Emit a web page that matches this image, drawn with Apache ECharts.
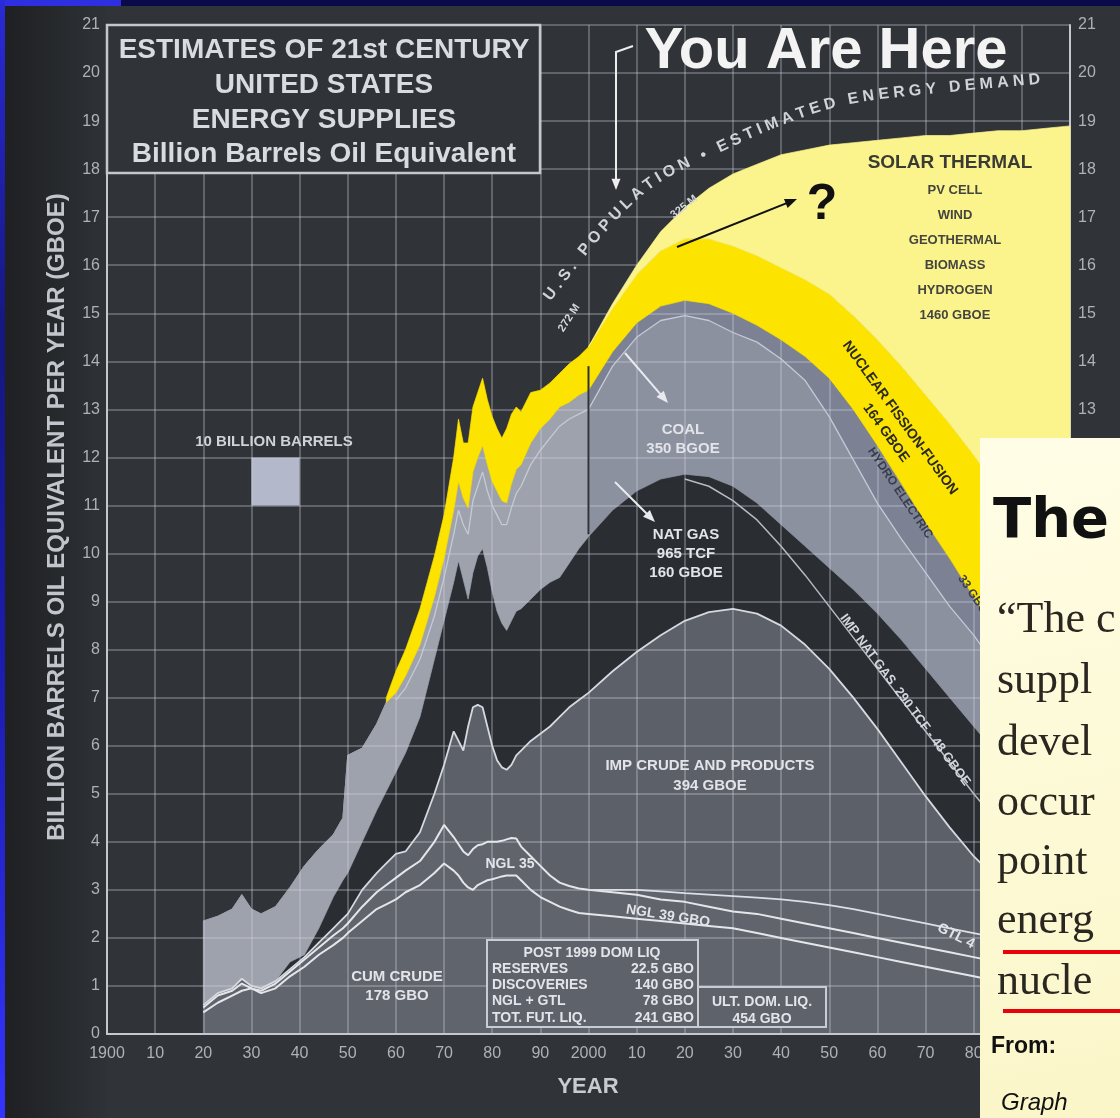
<!DOCTYPE html>
<html>
<head>
<meta charset="utf-8">
<script src="https://cdn.jsdelivr.net/npm/echarts@6/dist/echarts.min.js"></script>
<style>
  html, body { margin: 0; padding: 0; background: #303337; }
  #chart { width: 1120px; height: 1118px; }
</style>
</head>
<body>
<div id="chart"></div>
<script>
// ---------------------------------------------------------------
// US energy supply estimates, billion barrels oil equivalent / yr
// Each array is the upper edge of one source (cumulative level).
// ---------------------------------------------------------------
const histYears = [1920, 1923, 1926, 1928, 1930, 1932, 1935, 1938, 1941, 1944, 1947, 1949,
  1950, 1953, 1956, 1958, 1960, 1962, 1965, 1968, 1970, 1972, 1973, 1974,
  1975, 1976, 1977, 1978, 1979, 1980, 1981, 1982, 1983, 1984, 1985, 1986,
  1988, 1990, 1992, 1994, 1996, 1998];
const projYears = [2000, 2005, 2010, 2015, 2020, 2025, 2030, 2035, 2040, 2045, 2050,
  2055, 2060, 2065, 2070, 2075, 2080, 2085, 2090, 2095, 2100];

// domestic crude
const crudeHist = [0.45, 0.65, 0.8, 0.9, 0.95, 0.85, 0.95, 1.2, 1.4, 1.65, 1.85, 2.0,
  2.1, 2.35, 2.6, 2.7, 2.8, 2.95, 3.1, 3.35, 3.55, 3.4, 3.3, 3.15,
  3.05, 3.0, 3.1, 3.15, 3.2, 3.22, 3.25, 3.28, 3.3, 3.3, 3.3, 3.2,
  3.0, 2.85, 2.75, 2.65, 2.58, 2.52];
const crudeProj = [2.5, 2.45, 2.4, 2.35, 2.3, 2.25, 2.2, 2.1, 2.0, 1.9, 1.8,
  1.7, 1.6, 1.5, 1.4, 1.3, 1.2, 1.1, 1.0, 0.9, 0.8];
// natural gas liquids
const nglHist = [0.55, 0.8, 0.9, 1.05, 0.95, 0.9, 1.05, 1.3, 1.55, 1.8, 2.05, 2.2,
  2.3, 2.65, 2.95, 3.1, 3.25, 3.4, 3.6, 4.0, 4.35, 4.1, 3.95, 3.8,
  3.72, 3.85, 3.93, 3.95, 4.0, 4.0, 4.0, 4.02, 4.05, 4.08, 4.07, 3.9,
  3.7, 3.5, 3.3, 3.15, 3.08, 3.03];
const nglProj = [3.0, 2.95, 2.9, 2.8, 2.75, 2.65, 2.55, 2.5, 2.4, 2.3, 2.2,
  2.1, 2.0, 1.9, 1.8, 1.7, 1.6, 1.5, 1.4, 1.3, 1.2];
// gas to liquids
const gtlProj = [3.0, 3.0, 3.0, 2.97, 2.93, 2.9, 2.87, 2.84, 2.8, 2.75, 2.68,
  2.6, 2.5, 2.4, 2.3, 2.2, 2.1, 2.0, 1.9, 1.8, 1.7];
// imported crude and products
const impCrudeHist = [0.6, 0.85, 0.95, 1.15, 1.0, 0.95, 1.1, 1.35, 1.6, 1.9, 2.2, 2.4,
  2.5, 3.0, 3.35, 3.55, 3.75, 3.8, 4.2, 5.0, 5.6, 6.3, 6.1, 5.9,
  6.4, 6.8, 6.85, 6.8, 6.4, 6.0, 5.7, 5.55, 5.5, 5.6, 5.8, 5.9,
  6.1, 6.25, 6.4, 6.6, 6.8, 6.95];
const impCrudeProj = [7.1, 7.55, 7.95, 8.3, 8.6, 8.78, 8.85, 8.75, 8.5, 8.1, 7.6,
  7.0, 6.35, 5.65, 4.95, 4.3, 3.7, 3.2, 2.8, 2.45, 2.2];
// natural gas
const natGasHist = [null, null, null, null, null, null, 1.1, 1.5, 1.65, 2.2, 2.85, 3.2,
  3.35, 4.0, 4.65, 5.05, 5.45, 5.85, 6.6, 7.8, 8.6, 9.4, 9.85, 9.45,
  9.05, 9.6, 9.95, 10.1, 9.7, 9.2, 8.8, 8.55, 8.4, 8.6, 8.8, 8.85,
  9.05, 9.25, 9.4, 9.5, 9.8, 10.1];
const natGasProj = [10.35, 10.85, 11.25, 11.5, 11.55, 11.4, 11.1, 10.7, 10.15, 9.55, 8.9,
  8.25, 7.6, 6.95, 6.3, 5.65, 5.0, 4.4, 3.8, 3.25, 2.7];
// imported natural gas
const impGasProj = [10.35, 10.9, 11.3, 11.55, 11.65, 11.6, 11.4, 11.05, 10.6, 10.15, 9.7,
  9.25, 8.75, 8.2, 7.6, 7.0, 6.4, 5.8, 5.2, 4.65, 4.1];
// coal
const coalHist = [2.35, 2.45, 2.6, 2.9, 2.6, 2.5, 2.65, 3.05, 3.5, 3.85, 4.15, 4.5,
  5.8, 5.95, 6.45, 6.9, 6.95, 7.2, 7.8, 8.7, 9.5, 10.4, 10.9, 10.6,
  10.4, 11.1, 11.4, 11.7, 11.3, 11.0, 10.8, 10.6, 10.6, 10.95, 11.25, 11.4,
  11.85, 12.15, 12.4, 12.65, 12.8, 12.9];
const coalProj = [13.0, 13.9, 14.5, 14.85, 14.95, 14.85, 14.6, 14.4, 14.05, 13.6, 12.85,
  11.95, 11.05, 10.3, 9.6, 8.9, 8.3, 7.6, 6.9, 6.2, 5.5];
// hydro electric
const hydroHist = [2.35, 2.45, 2.6, 2.9, 2.6, 2.5, 2.65, 3.05, 3.5, 3.85, 4.15, 4.5,
  5.8, 5.95, 6.45, 6.9, 7.1, 7.45, 8.1, 9.1, 9.9, 10.9, 11.5, 11.15,
  10.95, 11.7, 12.0, 12.25, 11.85, 11.5, 11.3, 11.1, 11.05, 11.45, 11.75, 11.85,
  12.3, 12.6, 12.8, 13.05, 13.15, 13.3];
const hydroProj = [13.4, 14.2, 14.8, 15.15, 15.27, 15.2, 15.0, 14.75, 14.45, 14.1, 13.65,
  13.0, 12.25, 11.45, 10.65, 9.9, 9.1, 8.3, 7.5, 6.7, 5.9];
// nuclear fission-fusion
const nuclearHist = [null, null, null, null, null, null, null, null, null, null, null, null,
  null, null, null, 7.0, 7.55, 8.0, 8.85, 9.95, 10.8, 12.0, 12.8, 12.3,
  12.3, 13.05, 13.35, 13.65, 13.2, 12.85, 12.6, 12.4, 12.6, 12.9, 13.05, 12.95,
  13.35, 13.4, 13.55, 13.75, 13.95, 14.1];
const nuclearProj = [14.3, 15.1, 15.8, 16.3, 16.55, 16.55, 16.4, 16.2, 15.95, 15.7, 15.4,
  14.95, 14.45, 13.9, 13.3, 12.7, 12.05, 11.35, 10.6, 9.85, 9.1];
// estimated energy demand (solar thermal, PV, wind, geothermal, biomass, hydrogen on top)
const demandProj = [14.3, 15.2, 16.0, 16.7, 17.2, 17.6, 17.9, 18.1, 18.3, 18.4, 18.5,
  18.55, 18.6, 18.65, 18.7, 18.7, 18.75, 18.8, 18.8, 18.85, 18.9];

// scale square: 10 years x 1 GBOE per year
const scaleSquareYears = [1930, 1940];
const scaleSquareLevels = [11, 12];
// present-day marker
const markerYear = 2000;
const markerLevels = [10.4, 13.9];

// axis tick labels
const yTickLabels = ['0','1','2','3','4','5','6','7','8','9','10','11','12','13','14','15','16','17','18','19','20','21'];

// ---------------------------------------------------------------
const SANS = '"Liberation Sans", Arial, Helvetica, sans-serif';
const SERIF = '"Liberation Serif", "Times New Roman", serif';
const HEAVY = '"DejaVu Sans", Verdana, sans-serif';

const layers = [
  { name: 'crude', hist: crudeHist, proj: crudeProj },
  { name: 'ngl', hist: nglHist, proj: nglProj },
  { name: 'gtl', hist: null, proj: gtlProj },
  { name: 'impCrude', hist: impCrudeHist, proj: impCrudeProj },
  { name: 'natGas', hist: natGasHist, proj: natGasProj },
  { name: 'impGas', hist: null, proj: impGasProj },
  { name: 'coal', hist: coalHist, proj: coalProj },
  { name: 'hydro', hist: hydroHist, proj: hydroProj },
  { name: 'nuclear', hist: nuclearHist, proj: nuclearProj },
  { name: 'demand', hist: null, proj: demandProj }
];
const fills = {
  crude: ['#60656d', '#60656d'],
  ngl: ['#60656d', '#60656d'],
  gtl: ['#60656d', '#60656d'],
  impCrude: ['#5c6169', '#5c6169'],
  natGas: ['#2a2d31', '#2a2d31'],
  impGas: ['#2a2d31', '#2a2d31'],
  coal: ['#9ea2ad', '#8c91a0'],
  hydro: ['#9ea2ad', '#7c8294'],
  nuclear: ['#fde300', '#fde300'],
  demand: ['#fbf38b', '#fbf38b']
};
const bandZ = { nuclear: 4, demand: 4 };

const eras = [
  { xs: histYears.concat([projYears[0]]),
    vals: l => (l.hist ? l.hist : histYears.map(() => null)).concat([l.proj ? l.proj[0] : null]) },
  { xs: projYears, vals: l => l.proj.slice() }
];

function buildBands() {
  const out = [];
  eras.forEach((era, e) => {
    const table = layers.map(l => era.vals(l));
    layers.forEach((layer, i) => {
      const up = table[i];
      const runs = [];
      let cur = [];
      up.forEach((v, k) => {
        if (v == null) { if (cur.length) runs.push(cur); cur = []; }
        else cur.push(k);
      });
      if (cur.length) runs.push(cur);
      const polys = runs.filter(r => r.length > 1).map(r => {
        const top = r.map(k => [era.xs[k], up[k]]);
        const bottom = r.map(k => {
          for (let j = i - 1; j >= 0; j--) {
            if (table[j][k] != null) return [era.xs[k], table[j][k]];
          }
          return [era.xs[k], 0];
        });
        return top.concat(bottom.reverse());
      });
      if (!polys.length) return;
      const color = fills[layer.name][e];
      out.push({
        type: 'custom', name: layer.name + (e ? '-proj' : '-hist'),
        coordinateSystem: 'cartesian2d', xAxisIndex: 0, yAxisIndex: 0,
        z: bandZ[layer.name] || 2, silent: true, animation: false,
        data: [[polys[0][0][0], 0]],
        renderItem: (params, api) => ({
          type: 'group',
          children: polys.map(poly => ({
            type: 'polygon',
            shape: { points: poly.map(p => api.coord(p)) },
            style: { fill: color, stroke: color, lineWidth: 0.7 }
          }))
        })
      });
    });
  });
  return out;
}

function layerPoints(name, from) {
  const l = layers.find(x => x.name === name);
  const pts = [];
  if (l.hist) histYears.forEach((y, k) => { if (l.hist[k] != null) pts.push([y, l.hist[k]]); });
  projYears.forEach((y, k) => { if (l.proj[k] != null) pts.push([y, l.proj[k]]); });
  return pts.filter(p => p[0] >= from);
}

const lineDefs = [
  { name: 'crude', color: '#e4e6ea', width: 2, from: 1920 },
  { name: 'ngl', color: '#e4e6ea', width: 2, from: 1920 },
  { name: 'gtl', color: '#dcdfe4', width: 1.8, from: 2000 },
  { name: 'impCrude', color: '#d6d9df', width: 1.8, from: 1920 },
  { name: 'natGas', color: '#b6bac4', width: 1.5, from: 2020 },
  { name: 'coal', color: '#c6cad6', width: 1.3, from: 1960 }
];

const lineSeries = lineDefs.map(d => ({
  type: 'line', name: d.name + '-edge', data: layerPoints(d.name, d.from),
  symbol: 'none', z: 5, silent: true, animation: false,
  lineStyle: { color: d.color, width: d.width }
}));

const squareSeries = {
  type: 'custom', name: 'scale-square', coordinateSystem: 'cartesian2d', z: 2, silent: true,
  data: [[scaleSquareYears[0], scaleSquareLevels[0]]],
  renderItem: (params, api) => {
    const a = api.coord([scaleSquareYears[0], scaleSquareLevels[1]]);
    const b = api.coord([scaleSquareYears[1], scaleSquareLevels[0]]);
    return { type: 'rect', shape: { x: a[0], y: a[1], width: b[0] - a[0], height: b[1] - a[1] },
      style: { fill: '#b3b8cb' } };
  }
};

const markerSeries = {
  type: 'line', name: 'present', data: markerLevels.map(v => [markerYear, v]),
  symbol: 'none', z: 5, silent: true, lineStyle: { color: '#2f3236', width: 2 }
};

const gridLine = { color: 'rgba(212,216,226,0.4)', width: 1.5 };
const axisLineStyle = { color: '#c4c7cd', width: 2 };
const tickFont = { color: '#aeb2b8', fontSize: 16, fontFamily: SANS };

const option = {
  backgroundColor: '#303337',
  animation: false,
  grid: { left: 107, right: 50, top: 25, bottom: 84 },
  xAxis: {
    type: 'value', min: 1900, max: 2100, interval: 10, z: 3,
    axisLine: { show: true, onZero: false, lineStyle: axisLineStyle },
    axisTick: { show: false },
    axisLabel: Object.assign({ margin: 12,
      formatter: v => (v === 2100 ? '' : (v === 1900 || v === 2000) ? String(v) : String(v % 100)) }, tickFont),
    splitLine: { show: true, lineStyle: gridLine }
  },
  yAxis: [
    { type: 'value', min: 0, max: 21, interval: 1, position: 'left', z: 3,
      axisLine: { show: true, onZero: false, lineStyle: axisLineStyle },
      axisTick: { show: false },
      axisLabel: Object.assign({ margin: 7, formatter: v => yTickLabels[v] }, tickFont),
      splitLine: { show: true, lineStyle: gridLine } },
    { type: 'value', min: 0, max: 21, interval: 1, position: 'right', z: 3,
      axisLine: { show: true, onZero: false, lineStyle: axisLineStyle },
      axisTick: { show: false },
      axisLabel: Object.assign({ margin: 8, formatter: v => yTickLabels[v] }, tickFont),
      splitLine: { show: false } }
  ],
  series: buildBands().concat([squareSeries], lineSeries, [markerSeries])
};

const chart = echarts.init(document.getElementById('chart'), null, { renderer: 'canvas', width: 1120, height: 1118 });
chart.setOption(option);

// ---------------- annotations ----------------
function txt(x, y, text, o) {
  o = o || {};
  const align = o.align || 'center';
  const va = o.va || 'middle';
  return {
    type: 'text', x: x, y: y, z: o.z || 30, silent: true,
    rotation: (o.rot || 0) * Math.PI / 180,
    scaleX: o.sx || 1,
    style: {
      text: text, x: 0, y: 0, fill: o.color || '#e2e4e9',
      font: o.font || ('bold 15px ' + SANS),
      align: align, verticalAlign: va, textAlign: align, textVerticalAlign: va
    }
  };
}
function arrow(x1, y1, x2, y2, color, w, head, z) {
  const a = Math.atan2(y2 - y1, x2 - x1);
  const p1 = [x2 - head * Math.cos(a - 0.38), y2 - head * Math.sin(a - 0.38)];
  const p2 = [x2 - head * Math.cos(a + 0.38), y2 - head * Math.sin(a + 0.38)];
  return [
    { type: 'line', z: z || 30, silent: true,
      shape: { x1: x1, y1: y1, x2: x2 - head * 0.7 * Math.cos(a), y2: y2 - head * 0.7 * Math.sin(a) },
      style: { stroke: color, lineWidth: w } },
    { type: 'polygon', z: z || 30, silent: true, shape: { points: [[x2, y2], p1, p2] }, style: { fill: color } }
  ];
}
function rect(x, y, w, h, fill, stroke, lw, z) {
  return { type: 'rect', z: z, silent: true, shape: { x: x, y: y, width: w, height: h },
    style: { fill: fill, stroke: stroke || null, lineWidth: lw || 0 } };
}

// text set along a smooth guide curve (guide given in data units)
const demandLabelGuide = [[1991.4, 15.3], [2002.4, 16.7], [2012.8, 17.7], [2025.2, 18.35],
  [2039.8, 19.0], [2054.3, 19.45], [2075.1, 19.7], [2093.8, 19.87]];

function curvedText(str, guide, font, color) {
  const pts = guide.map(p => chart.convertToPixel({ xAxisIndex: 0, yAxisIndex: 0 }, p));
  const dense = [];
  for (let i = 0; i < pts.length - 1; i++) {
    const p0 = pts[Math.max(i - 1, 0)], p1 = pts[i], p2 = pts[i + 1], p3 = pts[Math.min(i + 2, pts.length - 1)];
    for (let s = 0; s < 20; s++) {
      const t = s / 20, t2 = t * t, t3 = t2 * t;
      const f = d => 0.5 * (2 * p1[d] + (-p0[d] + p2[d]) * t + (2 * p0[d] - 5 * p1[d] + 4 * p2[d] - p3[d]) * t2 +
        (-p0[d] + 3 * p1[d] - 3 * p2[d] + p3[d]) * t3);
      dense.push([f(0), f(1)]);
    }
  }
  dense.push(pts[pts.length - 1]);
  const cum = [0];
  for (let i = 1; i < dense.length; i++) {
    cum.push(cum[i - 1] + Math.hypot(dense[i][0] - dense[i - 1][0], dense[i][1] - dense[i - 1][1]));
  }
  const total = cum[cum.length - 1];
  const ctx = document.createElement('canvas').getContext('2d');
  ctx.font = font;
  const chars = Array.from(str);
  const widths = chars.map(c => ctx.measureText(c).width);
  const natural = widths.reduce((a, b) => a + b, 0);
  const gap = (total - natural) / (chars.length - 1);
  const at = s => {
    let i = 1;
    while (i < cum.length - 1 && cum[i] < s) i++;
    const seg = cum[i] - cum[i - 1] || 1;
    const t = (s - cum[i - 1]) / seg;
    const a = dense[i - 1], b = dense[i];
    return { x: a[0] + (b[0] - a[0]) * t, y: a[1] + (b[1] - a[1]) * t, ang: Math.atan2(b[1] - a[1], b[0] - a[0]) };
  };
  const els = [];
  let s = 0;
  chars.forEach((c, i) => {
    const p = at(s + widths[i] / 2);
    els.push(txt(p.x, p.y, c, { font: font, color: color, rot: -p.ang * 180 / Math.PI }));
    s += widths[i] + gap;
  });
  return els;
}

function buildGraphics() {
  let g = [];
  // darker paper towards the left edge
  g.push({ type: 'rect', z: 0, silent: true, shape: { x: 0, y: 0, width: 107, height: 1118 },
    style: { fill: new echarts.graphic.LinearGradient(0, 0, 1, 0, [
      { offset: 0, color: '#1d1f22' }, { offset: 1, color: '#2f3236' }]) } });

  // title box
  g.push(rect(107, 25, 433, 148, '#303337', '#c3c7ce', 2.5, 10));
  const titleFont = 'bold 28px ' + SANS;
  g.push(txt(324, 50, 'ESTIMATES OF 21st CENTURY', { font: titleFont, color: '#d8dbe0', z: 11 }));
  g.push(txt(324, 85, 'UNITED STATES', { font: titleFont, color: '#d8dbe0', z: 11 }));
  g.push(txt(324, 120, 'ENERGY SUPPLIES', { font: titleFont, color: '#d8dbe0', z: 11 }));
  g.push(txt(324, 154, 'Billion Barrels Oil Equivalent', { font: titleFont, color: '#d8dbe0', z: 11 }));

  // axis names
  g.push(txt(57, 517, 'BILLION BARRELS OIL EQUIVALENT PER YEAR (GBOE)', { font: 'bold 24px ' + SANS, color: '#c2c6cc', rot: 90 }));
  g.push(txt(588, 1087, 'YEAR', { font: 'bold 22px ' + SANS, color: '#c8cbd1' }));

  // "You Are Here"
  g.push(txt(826, 52, 'You Are Here', { font: 'bold 58px ' + SANS, color: '#f3f3f3' }));
  g.push({ type: 'polyline', z: 30, silent: true, shape: { points: [[616, 178], [616, 52], [633, 46]] },
    style: { stroke: '#eeeeee', lineWidth: 2, fill: null } });
  g = g.concat(arrow(616, 150, 616, 190, '#eeeeee', 2, 12));

  // demand curve caption
  g = g.concat(curvedText('U.S. POPULATION \u2022 ESTIMATED ENERGY DEMAND', demandLabelGuide,
    'bold 16px ' + SANS, '#d0d3d9'));
  g.push(txt(569, 318, '272 M', { font: 'bold 11px ' + SANS, color: '#d5d8de', rot: 57 }));
  g.push(txt(684, 207, '325 M', { font: 'bold 11px ' + SANS, color: '#d5d8de', rot: 38 }));

  // question mark and arrow
  g = g.concat(arrow(677, 247, 797, 199, '#111111', 2, 13));
  g.push(txt(822, 205, '?', { font: 'bold 50px ' + SANS, color: '#111111' }));

  // renewables list
  g.push(txt(950, 163, 'SOLAR THERMAL', { font: 'bold 19px ' + SANS, color: '#3b3b35' }));
  const renew = ['PV CELL', 'WIND', 'GEOTHERMAL', 'BIOMASS', 'HYDROGEN', '1460 GBOE'];
  renew.forEach((t, i) => g.push(txt(955, 190 + i * 25, t, { font: 'bold 13px ' + SANS, color: '#454540' })));

  // rotated band captions
  g.push(txt(900, 418, 'NUCLEAR FISSION-FUSION', { font: 'bold 14px ' + SANS, color: '#2a2a22', rot: -54 }));
  g.push(txt(886, 433, '164 GBOE', { font: 'bold 14px ' + SANS, color: '#2a2a22', rot: -54 }));
  g.push(txt(900, 493, 'HYDRO ELECTRIC', { font: 'bold 12px ' + SANS, color: '#383d4c', rot: -56 }));
  g.push(txt(975, 598, '33 GBOE', { font: 'bold 12px ' + SANS, color: '#383d4c', rot: -56 }));
  g.push(txt(905, 700, 'IMP NAT GAS  290 TCF - 48 GBOE', { font: 'bold 13px ' + SANS, color: '#d4d7de', rot: -53.5 }));

  // region captions
  g.push(txt(274, 442, '10 BILLION BARRELS', { font: 'bold 15px ' + SANS, color: '#cfd2d8' }));
  g.push(txt(683, 430, 'COAL'));
  g.push(txt(683, 449, '350 BGOE'));
  g = g.concat(arrow(625, 353, 668, 403, '#e8eaee', 2, 13));
  g.push(txt(686, 535, 'NAT GAS'));
  g.push(txt(686, 554, '965 TCF'));
  g.push(txt(686, 573, '160 GBOE'));
  g = g.concat(arrow(615, 482, 655, 522, '#e8eaee', 2, 13));
  g.push(txt(710, 766, 'IMP CRUDE AND PRODUCTS'));
  g.push(txt(710, 786, '394 GBOE'));
  g.push(txt(510, 864, 'NGL 35', { font: 'bold 14px ' + SANS }));
  g.push(txt(668, 916, 'NGL 39 GBO', { font: 'bold 14px ' + SANS, rot: -9 }));
  g.push(txt(956, 936, 'GTL 4', { font: 'bold 14px ' + SANS, rot: -27 }));
  g.push(txt(397, 977, 'CUM CRUDE'));
  g.push(txt(397, 996, '178 GBO'));

  // liquids summary boxes
  g.push(rect(487, 940, 211, 87, '#5e636b', '#c8ccd3', 2, 12));
  g.push(rect(698, 987, 128, 40, '#5e636b', '#c8ccd3', 2, 12));
  const bf = 'bold 14px ' + SANS;
  g.push(txt(592, 953, 'POST 1999 DOM LIQ', { font: bf, z: 13 }));
  const rows = [['RESERVES', '22.5 GBO'], ['DISCOVERIES', '140 GBO'], ['NGL + GTL', '78 GBO'], ['TOT. FUT. LIQ.', '241 GBO']];
  rows.forEach((r, i) => {
    g.push(txt(492, 969 + i * 16.3, r[0], { font: bf, align: 'left', z: 13 }));
    g.push(txt(694, 969 + i * 16.3, r[1], { font: bf, align: 'right', z: 13 }));
  });
  g.push(txt(762, 1002, 'ULT. DOM. LIQ.', { font: bf, z: 13 }));
  g.push(txt(762, 1019, '454 GBO', { font: bf, z: 13 }));

  // quotation card
  g.push(rect(980, 438, 140, 680, new echarts.graphic.LinearGradient(0, 0, 1, 1, [
    { offset: 0, color: '#fffde6' }, { offset: 1, color: '#fbf6c8' }]), null, 0, 60));
  g.push(txt(993, 522, 'The', { font: 'bold 56px ' + HEAVY, color: '#111111', align: 'left', z: 61 }));
  const serifLines = [['\u201CThe c', 620], ['suppl', 681], ['devel', 743], ['occur', 803], ['point', 862], ['energ', 921], ['nucle', 982]];
  serifLines.forEach(r => g.push(txt(997, r[1], r[0], { font: '44px ' + SERIF, color: '#2a2620', align: 'left', z: 61 })));
  g.push(rect(1003, 950, 117, 4, '#e8000b', null, 0, 61));
  g.push(rect(1003, 1009, 117, 4, '#e8000b', null, 0, 61));
  g.push(txt(991, 1047, 'From:', { font: 'bold 23px ' + SANS, color: '#111111', align: 'left', z: 61 }));
  g.push(txt(1001, 1103, 'Graph', { font: 'italic 24px ' + SANS, color: '#111111', align: 'left', z: 61 }));

  // slide frame
  g.push(rect(0, 0, 1120, 6, '#0a0a48', null, 0, 70));
  g.push(rect(0, 0, 121, 6, '#2f2fe2', null, 0, 71));
  g.push({ type: 'rect', z: 71, silent: true, shape: { x: 0, y: 0, width: 5, height: 1118 },
    style: { fill: new echarts.graphic.LinearGradient(0, 0, 0, 1, [
      { offset: 0, color: '#2a2ad8' }, { offset: 0.3, color: '#16167e' },
      { offset: 0.6, color: '#1c1cae' }, { offset: 1, color: '#3434ff' }]) } });
  return g;
}

chart.setOption({ graphic: { elements: buildGraphics() } });
</script>
</body>
</html>
